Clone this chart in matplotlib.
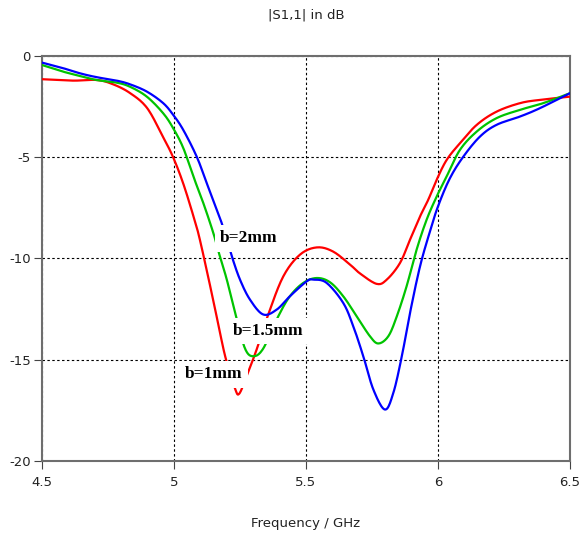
import numpy as np
import matplotlib.pyplot as plt

plt.rcParams['axes.unicode_minus'] = False

# |S1,1| curves, frequency in GHz, value in dB
freq_1mm = [4.5, 4.617, 4.708, 4.769, 4.833, 4.898, 4.958, 4.996, 5.034, 5.072,
            5.098, 5.148, 5.174, 5.197, 5.231, 5.247, 5.275, 5.313, 5.357,
            5.414, 5.477, 5.541, 5.602, 5.667, 5.705, 5.768, 5.806, 5.856, 5.894,
            5.932, 5.963, 5.995, 6.033, 6.083, 6.147, 6.222, 6.311, 6.386, 6.5]
s11_1mm = [-1.16, -1.23, -1.20, -1.41, -1.84, -2.58, -4.00, -4.99, -6.27, -7.85,
           -9.08, -12.03, -13.66, -14.99, -16.42, -16.68, -15.81, -14.50, -12.77,
           -10.89, -9.82, -9.46, -9.66, -10.31, -10.75, -11.26, -11.05, -10.23, -9.08,
           -7.93, -7.11, -6.12, -5.14, -4.32, -3.41, -2.76, -2.34, -2.18, -2.02]

freq_15mm = [4.5, 4.581, 4.644, 4.707, 4.783, 4.833, 4.897, 4.959, 4.997, 5.035,
             5.073, 5.111, 5.149, 5.172, 5.200, 5.235, 5.269, 5.300, 5.338, 5.395,
             5.439, 5.490, 5.541, 5.591, 5.641, 5.692, 5.742, 5.774, 5.812, 5.844,
             5.881, 5.919, 5.957, 5.995, 6.033, 6.083, 6.147, 6.222, 6.311, 6.399, 6.5]
s11_15mm = [-0.46, -0.79, -1.00, -1.20, -1.33, -1.53, -2.02, -2.84, -3.58, -4.55,
            -5.95, -7.27, -8.75, -9.82, -11.05, -12.86, -14.45, -14.83, -14.45, -12.86,
            -11.87, -11.21, -10.97, -11.18, -11.87, -12.86, -13.84, -14.20, -13.84, -12.86,
            -11.38, -9.57, -8.09, -6.95, -5.95, -4.65, -3.74, -3.08, -2.67, -2.34, -1.85]

freq_2mm = [4.5, 4.581, 4.644, 4.707, 4.783, 4.833, 4.897, 4.959, 4.997, 5.035,
            5.086, 5.124, 5.162, 5.184, 5.219, 5.250, 5.288, 5.338, 5.389, 5.439,
            5.503, 5.528, 5.578, 5.641, 5.679, 5.717, 5.755, 5.799, 5.831, 5.863,
            5.894, 5.932, 5.970, 6.001, 6.045, 6.096, 6.159, 6.222, 6.311, 6.386, 6.5]
s11_2mm = [-0.34, -0.62, -0.87, -1.06, -1.23, -1.41, -1.77, -2.34, -2.92, -3.66,
           -4.98, -6.29, -7.60, -8.39, -9.90, -11.05, -12.04, -12.77, -12.53, -11.87,
           -11.13, -11.05, -11.21, -12.20, -13.35, -14.83, -16.47, -17.46, -16.63, -14.83,
           -12.69, -10.39, -8.65, -7.40, -6.05, -4.98, -3.99, -3.41, -3.00, -2.59, -1.85]

labels = ['b=1mm', 'b=1.5mm', 'b=2mm']
label_pos = [(5.042, -15.73), (5.223, -13.59), (5.174, -9.02)]

x_ticks = [4.5, 5, 5.5, 6, 6.5]
x_tick_labels = ['4.5', '5', '5.5', '6', '6.5']
y_ticks = [0, -5, -10, -15, -20]


def catmull_rom(x, y, n=12):
    # smooth curve through the read points
    p = np.column_stack([x, y])
    p = np.vstack([p[0], p, p[-1]])
    out = []
    t = np.linspace(0, 1, n, endpoint=False)[:, None]
    for i in range(1, len(p) - 2):
        p0, p1, p2, p3 = p[i - 1], p[i], p[i + 1], p[i + 2]
        seg = 0.5 * ((2 * p1) + (-p0 + p2) * t +
                     (2 * p0 - 5 * p1 + 4 * p2 - p3) * t ** 2 +
                     (-p0 + 3 * p1 - 3 * p2 + p3) * t ** 3)
        out.append(seg)
    out.append(p[-2][None, :])
    out = np.vstack(out)
    return out[:, 0], out[:, 1]


fig = plt.figure(figsize=(5.81, 5.38), dpi=100)
ax = fig.add_axes([42 / 581, 1 - 461 / 538, 528 / 581, 405.3 / 538])

for x, y, c in [(freq_1mm, s11_1mm, '#ff0000'),
                (freq_15mm, s11_15mm, '#00c400'),
                (freq_2mm, s11_2mm, '#0000ff')]:
    xs, ys = catmull_rom(x, y)
    ax.plot(xs, ys, color=c, linewidth=1.6, zorder=3)

for txt, (lx, ly) in zip(labels, label_pos):
    ax.text(lx, ly, txt, family='Liberation Serif', fontsize=12.5, weight='bold',
            color='black', ha='left', va='center', zorder=5,
            bbox=dict(boxstyle='square,pad=0.3', fc='white', ec='none'))

ax.set_xlim(4.5, 6.5)
ax.set_ylim(-20, 0)
ax.set_xticks(x_ticks)
ax.set_xticklabels(x_tick_labels)
ax.set_yticks(y_ticks)
ax.grid(True, color='black', linestyle=(0, (2.2, 2.2)), linewidth=0.8)
for s in ax.spines.values():
    s.set_color('#6e6e6e')
    s.set_linewidth(1.5)
ax.tick_params(direction='out', length=6, width=0.8, color='#444444',
               labelsize=9.5, labelcolor='#222222')
ax.tick_params(axis='x', pad=5)
ax.tick_params(axis='y', pad=2)
for t in ax.get_xticklabels() + ax.get_yticklabels():
    t.set_family('DejaVu Sans')

ax.set_title('|S1,1| in dB', fontsize=9.5, color='#222222', pad=27)
ax.set_xlabel('Frequency / GHz', fontsize=9.5, color='#222222', labelpad=20)

fig.savefig('out.png', dpi=100)
